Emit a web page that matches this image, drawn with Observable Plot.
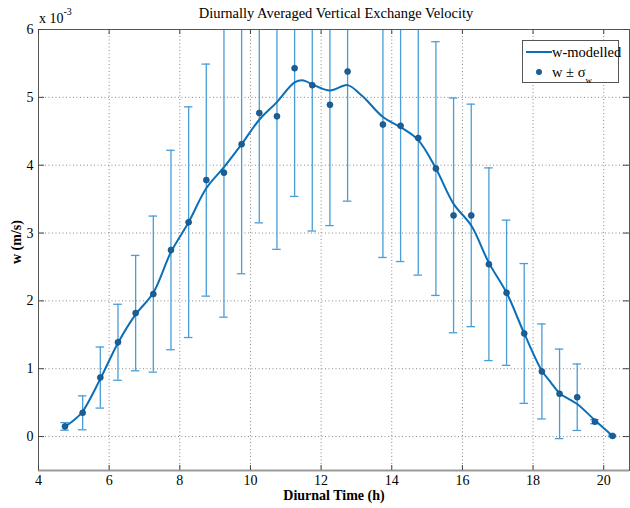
<!DOCTYPE html>
<html><head><meta charset="utf-8">
<script src="https://cdn.jsdelivr.net/npm/d3@7"></script>
<script src="https://cdn.jsdelivr.net/npm/@observablehq/plot@0.6"></script>
<style>
body{margin:0;background:#fff;}
#wrap{position:relative;width:630px;height:508px;font-family:"Liberation Serif","Times New Roman",serif;color:#000;}
#title{position:absolute;left:0;width:672px;top:5px;text-align:center;font-size:14.5px;}
#expo{position:absolute;left:39px;top:8px;font-size:14px;}
#expo sup{font-size:10px;position:relative;top:-2px;}
#legend{position:absolute;left:522px;top:40px;width:97px;height:43px;border:1px solid #555;background:#fff;box-sizing:border-box;font-size:14.5px;}
#legend .row{position:absolute;left:0;height:20px;width:100%;}
#legend .lbl{position:absolute;left:29px;top:0;line-height:20px;white-space:nowrap;}
#legend sub{font-size:9px;position:relative;top:2px;}
svg text{font-family:"Liberation Serif","Times New Roman",serif;}
</style></head><body>
<div id="wrap">
  <div id="title">Diurnally Averaged Vertical Exchange Velocity</div>
  <div id="expo">x 10<sup>-3</sup></div>
  <div id="legend">
    <div class="row" style="top:1px"><svg width="30" height="20" style="position:absolute;left:3px;top:0"><line x1="0" x2="26" y1="10" y2="10" stroke="#0b6fb8" stroke-width="2"/></svg><span class="lbl">w-modelled</span></div>
    <div class="row" style="top:21px"><svg width="30" height="20" style="position:absolute;left:3px;top:0"><circle cx="13" cy="10" r="3" fill="#1a5f96"/></svg><span class="lbl">w ± σ<sub>w</sub></span></div>
  </div>
</div>
<script>
// Data (w in units of 1e-3 m/s)
const hours  = [4.75,5.25,5.75,6.25,6.75,7.25,7.75,8.25,8.75,9.25,9.75,10.25,10.75,11.25,11.75,12.25,12.75,13.75,14.25,14.75,15.25,15.75,16.25,16.75,17.25,17.75,18.25,18.75,19.25,19.75,20.25];
const wMean  = [0.15,0.35,0.87,1.39,1.82,2.10,2.75,3.16,3.78,3.89,4.31,4.77,4.72,5.43,5.18,4.89,5.38,4.60,4.58,4.40,3.95,3.26,3.26,2.54,2.12,1.52,0.96,0.63,0.58,0.22,0.01];
const wSigma = [0.056,0.25,0.45,0.56,0.85,1.15,1.47,1.70,1.71,2.13,1.91,1.62,1.96,1.89,2.15,1.78,1.91,1.96,2.00,2.02,1.87,1.73,1.64,1.42,1.07,1.03,0.70,0.66,0.49,0.03,0.012];
const modelHours = [4.75,5.0,5.25,5.75,6.25,6.75,7.25,7.75,8.25,8.75,9.25,9.75,10.25,10.75,11.25,11.5,11.75,12.25,12.75,13.1,13.25,13.75,14.25,14.75,15.25,15.75,16.25,16.75,17.25,17.75,18.25,18.5,18.75,19.25,19.75,20.25];
const modelW     = [0.15,0.24,0.37,0.85,1.38,1.80,2.12,2.72,3.16,3.66,3.97,4.31,4.67,4.93,5.22,5.25,5.19,5.10,5.18,5.05,4.98,4.71,4.56,4.37,3.95,3.43,3.11,2.56,2.12,1.52,0.97,0.80,0.64,0.48,0.24,0.01];
const xTicks = [4,6,8,10,12,14,16,18,20];
const yTicks = [0,1,2,3,4,5,6];
const xGrid = [6,8,10,12,14,16,18,20];
const yGrid = [0,1,2,3,4,5];

const obs = hours.map((h,i)=>({h, w:wMean[i], lo:wMean[i]-wSigma[i], hi:wMean[i]+wSigma[i]}));
const model = modelHours.map((h,i)=>({h, w:modelW[i]}));
const capHalf = 0.12;

const serif = '"Liberation Serif","Times New Roman",serif';
const lineBlue = "#0b6fb8", barBlue = "#4a9dd6", dotBlue = "#1a5f96";
const grid = {stroke:"#888", strokeDasharray:"1,2.5", strokeWidth:1};

const chart = Plot.plot({
  width:630, height:508,
  marginLeft:38, marginRight:1, marginTop:29, marginBottom:38,
  style:{fontFamily:serif, fontSize:"14px", color:"#000", background:"transparent", overflow:"visible"},
  x:{domain:[4,20.73], ticks:xTicks, label:null},
  y:{domain:[-0.5,6], ticks:yTicks, label:null},
  marks:[
    Plot.ruleX(xGrid, {...grid}),
    Plot.ruleY(yGrid, {...grid}),
    Plot.ruleX(obs, {x:"h", y1:"lo", y2:"hi", stroke:barBlue, strokeWidth:1.3, clip:true}),
    Plot.ruleY(obs, {y:"lo", x1:d=>d.h-capHalf, x2:d=>d.h+capHalf, stroke:barBlue, strokeWidth:1.3, clip:true}),
    Plot.ruleY(obs, {y:"hi", x1:d=>d.h-capHalf, x2:d=>d.h+capHalf, stroke:barBlue, strokeWidth:1.3, clip:true}),
    Plot.line(model, {x:"h", y:"w", curve:"catmull-rom", stroke:lineBlue, strokeWidth:2}),
    Plot.dot(obs, {x:"h", y:"w", r:3, fill:dotBlue, stroke:"#0d4a7a", strokeWidth:0.6}),
    Plot.frame({stroke:"#555", strokeWidth:1}),
    Plot.ruleY([-0.5], {stroke:"#999", strokeWidth:2}),
    Plot.tickX(xTicks, {x:d=>d, stroke:"#444", insetTop:436}),
    Plot.tickX(xTicks, {x:d=>d, stroke:"#444", insetBottom:436}),
    Plot.tickY(yTicks, {y:d=>d, stroke:"#444", insetRight:585}),
    Plot.tickY(yTicks, {y:d=>d, stroke:"#444", insetLeft:585}),
    Plot.axisX({ticks:xTicks, tickSize:0, tickPadding:5, fontSize:14, fontFamily:serif, tickFormat:d=>String(d), label:null}),
    Plot.axisY({ticks:yTicks, tickSize:0, tickPadding:5, fontSize:14, fontFamily:serif, tickFormat:d=>String(d), label:null}),
    Plot.text(["Diurnal Time (h)"], {frameAnchor:"bottom", dy:25, fontWeight:"bold", fontSize:14, fontFamily:serif, lineAnchor:"middle"}),
    Plot.text(["w (m/s)"], {frameAnchor:"left", dx:-22, dy:14, rotate:-90, fontWeight:"bold", fontSize:14, fontFamily:serif})
  ]
});
chart.style.position = "absolute";
chart.style.left = "0";
chart.style.top = "0";
document.getElementById("wrap").prepend(chart);
</script>
</body></html>
